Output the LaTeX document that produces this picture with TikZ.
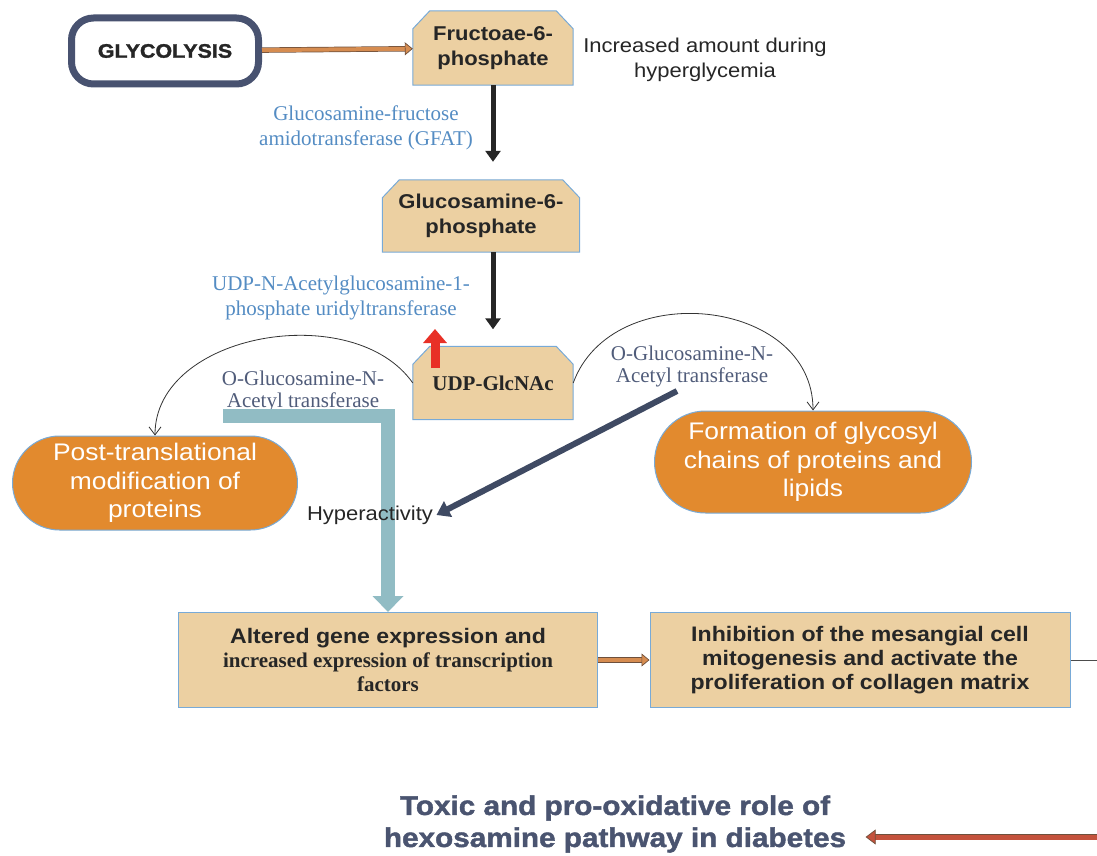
\documentclass[tikz,border=0pt]{standalone}
\usepackage{fontspec}
\setmainfont{Liberation Sans}[FakeStretch=1.1]
\newfontfamily\enzfont{Liberation Serif}
\newfontfamily\heavyfont{Liberation Sans}[FakeStretch=1.1, BoldFeatures={FakeBold=1.6}]
\usetikzlibrary{shapes}
\usetikzlibrary{positioning}
\usetikzlibrary{arrows.meta}
\usetikzlibrary{backgrounds}
\definecolor{tanfill}{RGB}{236,208,162}
\definecolor{boxblue}{RGB}{120,170,215}
\definecolor{pillorange}{RGB}{226,138,46}
\definecolor{glyline}{RGB}{72,82,112}
\definecolor{enzblue}{RGB}{84,140,195}
\definecolor{ogltext}{RGB}{80,92,122}
\definecolor{tealarr}{RGB}{145,188,196}
\definecolor{navyarr}{RGB}{63,74,99}
\definecolor{titleslate}{RGB}{74,84,112}
\definecolor{upred}{RGB}{232,48,38}
\definecolor{botred}{RGB}{196,82,60}
\definecolor{smallorange}{RGB}{214,140,80}
\definecolor{arrowedge}{RGB}{110,80,60}
\tikzset{
    glybox/.style = {rectangle, rounded corners=22pt, line width=7pt, draw=glyline, fill=white, minimum width=187pt, minimum height=66pt, text=black!85, font=\heavyfont\bfseries\fontsize{19.5}{22}\selectfont},
    boxtan/.style = {rectangle, align=center, text=black!85, font=\bfseries\fontsize{20}{25}\selectfont},
    chamline/.style = {draw=boxblue, line width=1pt, fill=tanfill},
    boxplain/.style = {rectangle, draw=boxblue, line width=1pt, fill=tanfill, align=center, text=black!85, minimum width=419pt, minimum height=95pt, font=\bfseries\fontsize{21}{24}\selectfont},
    pillnode/.style = {rounded rectangle, inner xsep=0pt, draw=boxblue, line width=1pt, fill=pillorange, text=white, align=center, font=\fontsize{24}{28.5}\selectfont},
    enzlabel/.style = {align=center, text=enzblue, font=\enzfont\fontsize{21}{25}\selectfont},
    ogllabel/.style = {align=center, text=ogltext, font=\enzfont\fontsize{21}{22}\selectfont},
    plainlabel/.style = {align=center, text=black!85, font=\fontsize{20}{25}\selectfont},
    titlelabel/.style = {align=center, text=titleslate, font=\heavyfont\bfseries\fontsize{27}{32}\selectfont},
    edgeblk/.style = {-{Triangle[length=11pt,width=15pt]}, line width=5pt, black!85},
    edgearc/.style = {-{Straight Barb[length=8pt,width=12pt]}, line width=0.8pt, black!80},
    edgeora/.style = {-{Triangle[length=8pt,width=13pt,fill=smallorange]}, draw=arrowedge, double=smallorange, double distance=4pt, line width=0.7pt},
    edgebot/.style = {-{Triangle[length=10pt,width=15pt,fill=botred]}, draw=arrowedge, double=botred, double distance=5pt, line width=0.7pt},
    edgeteal/.style = {-{Triangle[length=16pt,width=30pt]}, line width=14pt, tealarr, line join=miter},
    edgenavy/.style = {-{Triangle[length=13pt,width=17pt]}, line width=6pt, navyarr},
    edgered/.style = {-{Triangle[length=14pt,width=23pt]}, line width=9pt, upred},
    edgethin/.style = {-, line width=0.8pt, black!70}
}
\begin{document}
\begin{tikzpicture}[x=1pt, y=-1pt]
\useasboundingbox (0,0) rectangle (1097,856);
\node[glybox] at (165, 51) (gly) {GLYCOLYSIS};
\node[boxtan, minimum width=160pt, minimum height=74pt] at (493, 48) (fru) {Fructoae-6-\\phosphate};
\node[boxtan, minimum width=197pt, minimum height=72pt] at (481, 216) (glu) {Glucosamine-6-\\phosphate};
\node[boxtan, minimum width=160pt, minimum height=73pt, font=\enzfont\bfseries\fontsize{21}{25}\selectfont] at (493, 383) (udp) {UDP-GlcNAc};
\node[pillnode, minimum width=285pt, minimum height=94pt] at (155, 483) (post) {Post-translational\\modification of\\proteins};
\node[pillnode, minimum width=317pt, minimum height=102pt] at (813, 462) (form) {Formation of glycosyl\\chains of proteins and\\lipids};
\node[boxplain] at (388, 660) (alt) {Altered gene expression and\\{\enzfont increased expression of transcription}\\{\enzfont factors}};
\node[boxplain, minimum width=420pt] at (860, 660) (inh) {Inhibition of the mesangial cell\\mitogenesis and activate the\\proliferation of collagen matrix};
%
\begin{pgfonlayer}{background}
\foreach \n in {fru, glu, udp}
  \draw[chamline] ([yshift=-18pt]\n.north west) -- ([xshift=17pt]\n.north west) -- ([xshift=-17pt]\n.north east) -- ([yshift=-18pt]\n.north east) -- (\n.south east) -- (\n.south west) -- cycle;
\end{pgfonlayer}
%
\node[plainlabel] at (705, 60) (incr) {Increased amount during\\hyperglycemia};
\node[enzlabel] at (366, 128) (gfat) {Glucosamine-fructose\\amidotransferase (GFAT)};
\node[enzlabel] at (341, 298) (uridyl) {UDP-N-Acetylglucosamine-1-\\phosphate uridyltransferase};
\node[ogllabel] at (303, 391) (oglcl) {O-Glucosamine-N-\\Acetyl transferase};
\node[ogllabel] at (692, 366) (oglcr) {O-Glucosamine-N-\\Acetyl transferase};
\node[titlelabel] at (615, 824) (title) {Toxic and pro-oxidative role of\\hexosamine pathway in diabetes};
%
\coordinate (redbase) at (435, 368);
\coordinate (redtip) at (435, 329);
\coordinate (tealstart) at (223, 416);
\coordinate (navystart) at (677, 391);
\coordinate (rightedge) at (1097, 660);
\coordinate (botstart) at (1097, 837);
%
\draw[edgeteal] (tealstart) -| (alt.north);
\node[plainlabel] at (370, 515) (hyper) {Hyperactivity};
%
\draw[edgeora] (gly) -- (fru);
\draw[edgeblk, shorten >=18pt] (fru.south) -- (fru.south |- glu.north);
\draw[edgeblk, shorten >=17pt] (fru.south |- glu.south) -- (fru.south |- udp.north);
\draw[edgered] (redbase) -- (redtip);
\draw[edgearc] (udp.west) to[out=125, in=90] (post.north);
\draw[edgearc] (udp.east) to[out=70, in=90, looseness=1.2] (form.north);
\draw[edgenavy] (navystart) -- (hyper.east);
\draw[edgeora] (alt) -- (inh);
\draw[edgethin] (inh) -- (rightedge);
\draw[edgebot, shorten >=16pt] (botstart) -- (botstart -| title.east);
\end{tikzpicture}
\end{document}
